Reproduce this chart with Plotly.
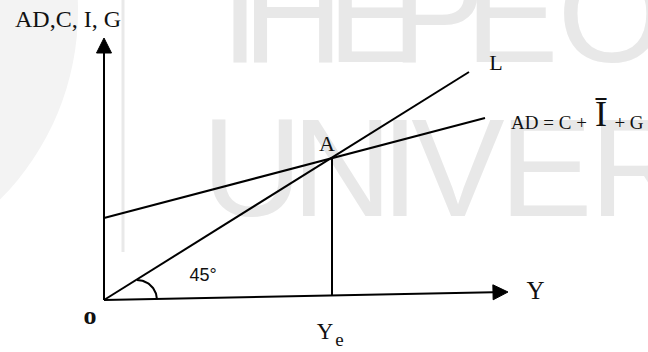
import numpy as np
import plotly.graph_objects as go

W, H = 648, 352
OX, OY = 104, 300          # pixel position of the origin O

# ---------------- diagram geometry (1 unit = 1 px, origin at O) ----------------
y_axis_tip = [0, 262]          # AD,C,I,G axis arrow tip
x_axis_tip = [404, 8]          # Y axis arrow tip (drawing is slightly tilted)
line45_x = [0, 365]            # 45 degree line L
line45_y = [0, 228]
ad_x = [0, 381]                # AD = C + I + G
ad_y = [82, 182]
point_a = [228, 142]           # equilibrium A
ye_foot_y = 4.5                # where the drop line meets the income axis
angle_center = [33, 0]
angle_radius = 20
arrow_len, arrow_half = 15, 7.5

# ---------------- labels (pixel centre x, baseline y, size) ----------------
serif_text = ["AD,C, I, G", "L", "A", "AD = C +", "Ī", "+ G", "Y", "Y", "e", "<b>o</b>"]
serif_cx = [68, 496, 327, 549, 601, 629, 535.5, 325, 339.5, 90]
serif_base = [29, 72, 153, 131, 130, 131, 301, 341, 348, 327]
serif_size = [24, 22, 22, 19, 36, 19, 25, 23, 19, 26]

sans_text = ["45°"]
sans_cx = [203]
sans_base = [283]
sans_size = [18]

# ---------------- watermark ----------------
wm_top_letters = ["T", "H", "E", "P", "E", "O"]
wm_top_cx = [240, 293, 374, 438, 512, 612]
wm_top_base = 76
wm_bot_letters = ["U", "N", "I", "V", "E", "R"]
wm_bot_cx = [252, 342, 400, 458, 546, 640]
wm_bot_base = 230
wm_size = 140
wm_color = "#e8e8e8"


def px_x(v):
    return [p - OX for p in v]


def center_y(base, size):
    # scatter text 'middle' puts baseline at centre + 0.35*size
    return [OY - (b - 0.35 * s) for b, s in zip(base, size)]


fig = go.Figure()

# watermark logo arc and bar (below everything)
fig.add_shape(type="circle", xref="x", yref="y", layer="below",
              x0=-189 - 267 - OX, x1=-189 + 267 - OX,
              y0=OY - (11 + 267), y1=OY - (11 - 267),
              fillcolor="#f3f3f3", line=dict(width=0))
fig.add_shape(type="line", xref="x", yref="y", layer="below",
              x0=123 - OX, x1=123 - OX, y0=OY - 0, y1=OY - 252,
              line=dict(color="#e9e9e9", width=3))

# watermark letters
fig.add_trace(go.Scatter(
    x=px_x(wm_top_cx), y=center_y([wm_top_base] * 6, [wm_size] * 6),
    mode="text", text=wm_top_letters, textposition="middle center",
    textfont=dict(family="Liberation Sans, Arial, sans-serif", size=wm_size, color=wm_color),
    hoverinfo="skip", showlegend=False))
fig.add_trace(go.Scatter(
    x=px_x(wm_bot_cx), y=center_y([wm_bot_base] * 6, [wm_size] * 6),
    mode="text", text=wm_bot_letters, textposition="middle center",
    textfont=dict(family="Liberation Sans, Arial, sans-serif", size=wm_size, color=wm_color),
    hoverinfo="skip", showlegend=False))

line_style = dict(color="black", width=2)

# axes (lines stop at the arrow bases)
xd = np.array(x_axis_tip, dtype=float)
xu = xd / np.linalg.norm(xd)
x_base = xd - arrow_len * xu
fig.add_trace(go.Scatter(x=[0, x_base[0]], y=[0, x_base[1]], mode="lines",
                         line=line_style, hoverinfo="skip", showlegend=False))
fig.add_trace(go.Scatter(x=[0, 0], y=[0, y_axis_tip[1] - arrow_len], mode="lines",
                         line=line_style, hoverinfo="skip", showlegend=False))

# arrow heads
xn = np.array([-xu[1], xu[0]])
tri_x = [xd[0], x_base[0] + arrow_half * xn[0], x_base[0] - arrow_half * xn[0], xd[0]]
tri_y = [xd[1], x_base[1] + arrow_half * xn[1], x_base[1] - arrow_half * xn[1], xd[1]]
fig.add_trace(go.Scatter(x=tri_x, y=tri_y, mode="lines", fill="toself", fillcolor="black",
                         line=dict(color="black", width=1), hoverinfo="skip", showlegend=False))
yt = y_axis_tip
fig.add_trace(go.Scatter(x=[yt[0], yt[0] - arrow_half, yt[0] + arrow_half, yt[0]],
                         y=[yt[1], yt[1] - arrow_len, yt[1] - arrow_len, yt[1]],
                         mode="lines", fill="toself", fillcolor="black",
                         line=dict(color="black", width=1), hoverinfo="skip", showlegend=False))

# 45 degree line, AD line, drop line
fig.add_trace(go.Scatter(x=line45_x, y=line45_y, mode="lines", line=line_style,
                         hoverinfo="skip", showlegend=False))
fig.add_trace(go.Scatter(x=ad_x, y=ad_y, mode="lines", line=line_style,
                         hoverinfo="skip", showlegend=False))
fig.add_trace(go.Scatter(x=[point_a[0], point_a[0]], y=[point_a[1], ye_foot_y], mode="lines",
                         line=line_style, hoverinfo="skip", showlegend=False))

# angle arc
t = np.linspace(np.pi / 2, 0.03, 40)
fig.add_trace(go.Scatter(x=angle_center[0] + angle_radius * np.cos(t),
                         y=angle_center[1] + angle_radius * np.sin(t),
                         mode="lines", line=line_style, hoverinfo="skip", showlegend=False))

# labels
fig.add_trace(go.Scatter(
    x=px_x(serif_cx), y=center_y(serif_base, serif_size), mode="text",
    text=serif_text, textposition="middle center",
    textfont=dict(family="Liberation Serif, Times New Roman, serif", size=serif_size, color="#111111"),
    hoverinfo="skip", showlegend=False))
fig.add_trace(go.Scatter(
    x=px_x(sans_cx), y=center_y(sans_base, sans_size), mode="text",
    text=sans_text, textposition="middle center",
    textfont=dict(family="Liberation Sans, Arial, sans-serif", size=sans_size, color="#111111"),
    hoverinfo="skip", showlegend=False))

fig.update_layout(
    width=W, height=H, margin=dict(l=0, r=0, t=0, b=0),
    paper_bgcolor="white", plot_bgcolor="white",
    xaxis=dict(range=[-OX, W - OX], visible=False, fixedrange=True),
    yaxis=dict(range=[OY - H, OY], visible=False, fixedrange=True),
    showlegend=False,
)

fig.write_html("out.html", config={"displayModeBar": False},
               post_script="document.body.style.margin='0';document.body.style.padding='0';"
                           "document.documentElement.style.margin='0';")
